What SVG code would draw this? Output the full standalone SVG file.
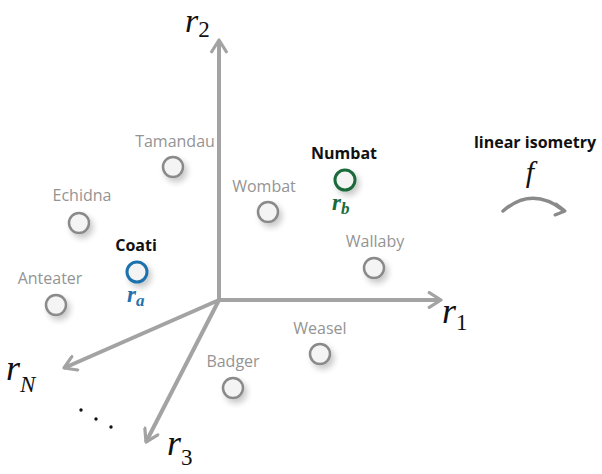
<svg xmlns="http://www.w3.org/2000/svg" width="602" height="474" viewBox="0 0 602 474">
  <defs>
    <filter id="soft" x="-100%" y="-100%" width="300%" height="300%">
      <feGaussianBlur in="SourceAlpha" stdDeviation="3"/>
      <feOffset dx="3" dy="4"/>
      <feComponentTransfer><feFuncA type="linear" slope="0.22"/></feComponentTransfer>
      <feMerge><feMergeNode/><feMergeNode in="SourceGraphic"/></feMerge>
    </filter>
    <marker id="chev" viewBox="0 0 12 12" refX="10" refY="6" markerWidth="4.4" markerHeight="4.4" orient="auto" markerUnits="strokeWidth">
      <path d="M2,1 L10,6 L2,11" fill="none" stroke="#a3a3a3" stroke-width="2.2" stroke-linecap="round" stroke-linejoin="round"/>
    </marker>
  </defs>
  <style>
    .axis { stroke: #a3a3a3; stroke-width: 4; fill: none; marker-end: url(#chev); }
    .pt { fill: #f4f4f4; stroke: #8a8a8a; stroke-width: 2.5; filter: url(#soft); }
    .lbl { font-family: "Open Sans", "Noto Sans", sans-serif; font-size: 16px; fill: #949494; text-anchor: middle; }
    .key { font-family: "Open Sans", "Noto Sans", sans-serif; font-size: 16px; font-weight: bold; fill: #111; text-anchor: middle; }
    .math { font-family: "Liberation Serif", "DejaVu Serif", serif; font-style: italic; }
    .up { font-style: normal; }
  </style>
  <rect width="602" height="474" fill="#ffffff"/>

  <!-- coordinate axes and the mapping arrow -->
  <g id="connectors">
    <line class="axis" x1="219" y1="300" x2="219" y2="40"/>
    <line class="axis" x1="217" y1="300" x2="441" y2="300"/>
    <line class="axis" x1="219" y1="300" x2="64" y2="368"/>
    <line class="axis" x1="219" y1="300" x2="146" y2="442"/>
    <path d="M503,211 Q532,186 563,210" fill="none" stroke="#8a8a8a" stroke-width="3.5" stroke-linecap="round"/>
    <path d="M556,204 L565,211 L555,215" fill="none" stroke="#8a8a8a" stroke-width="3" stroke-linecap="round" stroke-linejoin="round"/>
  </g>

  <!-- axis labels -->
  <g id="axis-labels" fill="#111">
    <text class="math" x="185" y="32" font-size="34">r<tspan class="up" font-size="23" dy="5">2</tspan></text>
    <text class="math" x="442" y="323" font-size="36">r<tspan class="up" font-size="23" dy="7">1</tspan></text>
    <text class="math" x="6" y="380" font-size="36">r<tspan font-size="23" dy="12">N</tspan></text>
    <text class="math" x="167" y="455" font-size="36">r<tspan class="up" font-size="23" dy="10">3</tspan></text>
    <circle cx="81" cy="410" r="1.7"/>
    <circle cx="96" cy="419" r="1.7"/>
    <circle cx="111" cy="427" r="1.7"/>
  </g>

  <g id="tamandau"><text class="lbl" x="175" y="147">Tamandau</text><circle class="pt" cx="173" cy="167" r="10"/></g>
  <g id="echidna"><text class="lbl" x="82" y="201">Echidna</text><circle class="pt" cx="79" cy="223" r="10"/></g>
  <g id="coati">
    <text class="key" x="136" y="251">Coati</text>
    <circle cx="137" cy="272" r="10" fill="#f4f4f4" stroke="#1f72ad" stroke-width="3" filter="url(#soft)"/>
    <text class="math" x="127" y="302" font-size="23" fill="#1f72ad" font-weight="bold">r<tspan font-size="17" dy="4">a</tspan></text>
  </g>
  <g id="anteater"><text class="lbl" x="50" y="284">Anteater</text><circle class="pt" cx="56" cy="305" r="10"/></g>
  <g id="wombat"><text class="lbl" x="264" y="192">Wombat</text><circle class="pt" cx="268" cy="212" r="10"/></g>
  <g id="numbat">
    <text class="key" x="344" y="159">Numbat</text>
    <circle cx="345" cy="180" r="10" fill="#f4f4f4" stroke="#1a6b3a" stroke-width="3" filter="url(#soft)"/>
    <text class="math" x="332" y="210" font-size="23" fill="#1a6b3a" font-weight="bold">r<tspan font-size="17" dy="4">b</tspan></text>
  </g>
  <g id="wallaby"><text class="lbl" x="375" y="247">Wallaby</text><circle class="pt" cx="374" cy="268" r="10"/></g>
  <g id="weasel"><text class="lbl" x="320" y="334">Weasel</text><circle class="pt" cx="320" cy="354" r="10"/></g>
  <g id="badger"><text class="lbl" x="233" y="367">Badger</text><circle class="pt" cx="233" cy="388" r="10"/></g>

  <g id="isometry">
    <text class="key" x="535" y="148" font-size="18">linear isometry</text>
    <text class="math" x="530" y="182" font-size="30" fill="#111" text-anchor="middle">f</text>
  </g>
</svg>
